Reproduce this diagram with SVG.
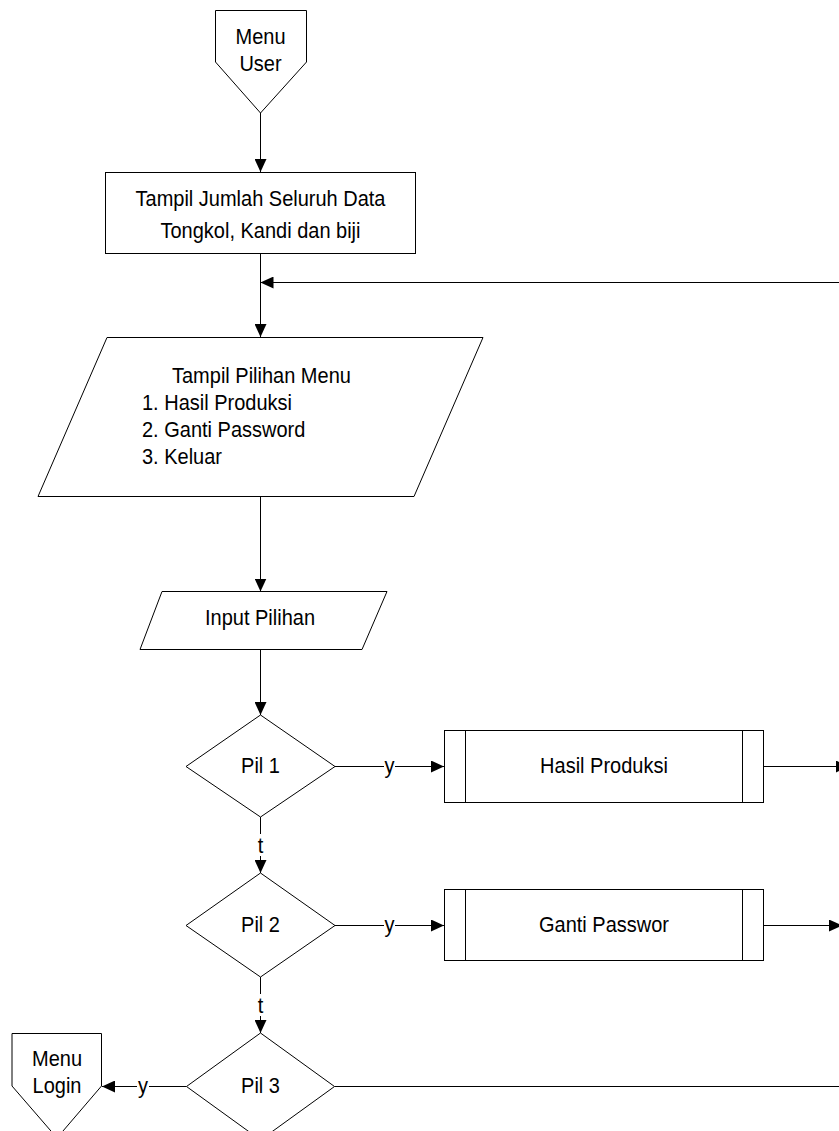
<svg xmlns="http://www.w3.org/2000/svg" width="839" height="1131" viewBox="0 0 839 1131">
<defs>
<style>
.s{fill:#fff;stroke:#000;stroke-width:1}
.c{fill:none;stroke:#000;stroke-width:1}
.a{marker-end:url(#ah)}
text{font-family:"Liberation Sans",Arial,sans-serif;font-size:20px;fill:#000}
.m{text-anchor:middle}
</style>
<marker id="ah" markerUnits="userSpaceOnUse" markerWidth="13" markerHeight="12" viewBox="0 0 13 12" refX="13" refY="6" orient="auto">
<path d="M0,0 L13,6 L0,12 z" fill="#000"/>
</marker>
</defs>
<rect width="839" height="1131" fill="#fff"/>
<g id="connectors">
<line class="c a" x1="260.5" y1="113" x2="260.5" y2="172"/>
<line class="c a" x1="260.5" y1="253.5" x2="260.5" y2="337"/>
<line class="c a" x1="845" y1="282.5" x2="260.5" y2="282.5"/>
<line class="c a" x1="260.5" y1="496.5" x2="260.5" y2="591.5"/>
<line class="c a" x1="260.5" y1="649.5" x2="260.5" y2="715"/>
<line class="c" x1="335" y1="766.5" x2="384" y2="766.5"/>
<line class="c a" x1="395" y1="766.5" x2="444" y2="766.5"/>
<text class="m" transform="translate(389.5,773) scale(1,1.09)">y</text>
<line class="c a" x1="763.5" y1="766.5" x2="849" y2="766.5"/>
<line class="c" x1="260.5" y1="817" x2="260.5" y2="834"/>
<text class="m" transform="translate(260.5,853) scale(1,1.09)">t</text>
<line class="c a" x1="260.5" y1="856" x2="260.5" y2="873"/>
<line class="c" x1="335" y1="925.5" x2="384" y2="925.5"/>
<line class="c a" x1="395" y1="925.5" x2="444" y2="925.5"/>
<text class="m" transform="translate(389.5,932) scale(1,1.09)">y</text>
<line class="c a" x1="763.5" y1="925.5" x2="842" y2="925.5"/>
<line class="c" x1="260.5" y1="977" x2="260.5" y2="994"/>
<text class="m" transform="translate(260.5,1013) scale(1,1.09)">t</text>
<line class="c a" x1="260.5" y1="1016" x2="260.5" y2="1033"/>
<line class="c" x1="186.5" y1="1086.5" x2="149" y2="1086.5"/>
<line class="c a" x1="137" y1="1086.5" x2="102" y2="1086.5"/>
<text class="m" transform="translate(143,1093) scale(1,1.09)">y</text>
<line class="c" x1="334.5" y1="1086.5" x2="845" y2="1086.5"/>
</g>
<g id="menu-user">
<polygon class="s" points="215.5,10.5 306.5,10.5 306.5,62 260.5,113 215.5,62"/>
<text class="m" transform="translate(260.5,43.5) scale(1,1.09)">Menu</text>
<text class="m" transform="translate(260.5,71) scale(1,1.09)">User</text>
</g>
<g id="tampil-jumlah">
<rect class="s" x="105.5" y="172.5" width="310" height="81"/>
<text class="m" transform="translate(260.5,206) scale(1,1.09)">Tampil Jumlah Seluruh Data</text>
<text class="m" transform="translate(260.5,238) scale(1,1.09)">Tongkol, Kandi dan biji</text>
</g>
<g id="tampil-pilihan">
<polygon class="s" points="107,337.5 483,337.5 414,496.5 38,496.5"/>
<text transform="translate(172,383) scale(1,1.09)">Tampil Pilihan Menu</text>
<text transform="translate(142,410) scale(1,1.09)">1. Hasil Produksi</text>
<text transform="translate(142,437) scale(1,1.09)">2. Ganti Password</text>
<text transform="translate(142,464) scale(1,1.09)">3. Keluar</text>
</g>
<g id="input-pilihan">
<polygon class="s" points="162,591.5 387,591.5 362,649.5 140,649.5"/>
<text class="m" transform="translate(260,625) scale(1,1.09)">Input Pilihan</text>
</g>
<g id="pil1">
<polygon class="s" points="260.5,715 335,766.5 260.5,817 186,766.5"/>
<text class="m" transform="translate(260.5,773) scale(1,1.09)">Pil 1</text>
</g>
<g id="hasil-produksi">
<rect class="s" x="444.5" y="730.5" width="319" height="72"/>
<line class="c" x1="465.5" y1="730.5" x2="465.5" y2="802.5"/>
<line class="c" x1="742.5" y1="730.5" x2="742.5" y2="802.5"/>
<text class="m" transform="translate(604,773) scale(1,1.09)">Hasil Produksi</text>
</g>
<g id="pil2">
<polygon class="s" points="260.5,873 335,925.5 260.5,977 186,925.5"/>
<text class="m" transform="translate(260.5,932) scale(1,1.09)">Pil 2</text>
</g>
<g id="ganti-password">
<rect class="s" x="444.5" y="889.5" width="319" height="71"/>
<line class="c" x1="465.5" y1="889.5" x2="465.5" y2="960.5"/>
<line class="c" x1="742.5" y1="889.5" x2="742.5" y2="960.5"/>
<text class="m" transform="translate(604,932) scale(1,1.09)">Ganti Passwor</text>
</g>
<g id="pil3">
<polygon class="s" points="260.5,1033 334.5,1086.5 260.5,1140 186.5,1086.5"/>
<text class="m" transform="translate(260.5,1093) scale(1,1.09)">Pil 3</text>
</g>
<g id="menu-login">
<polygon class="s" points="12,1033.5 101.5,1033.5 101.5,1086 57,1138 12,1086"/>
<text class="m" transform="translate(57,1066) scale(1,1.09)">Menu</text>
<text class="m" transform="translate(57,1093) scale(1,1.09)">Login</text>
</g>
</svg>
